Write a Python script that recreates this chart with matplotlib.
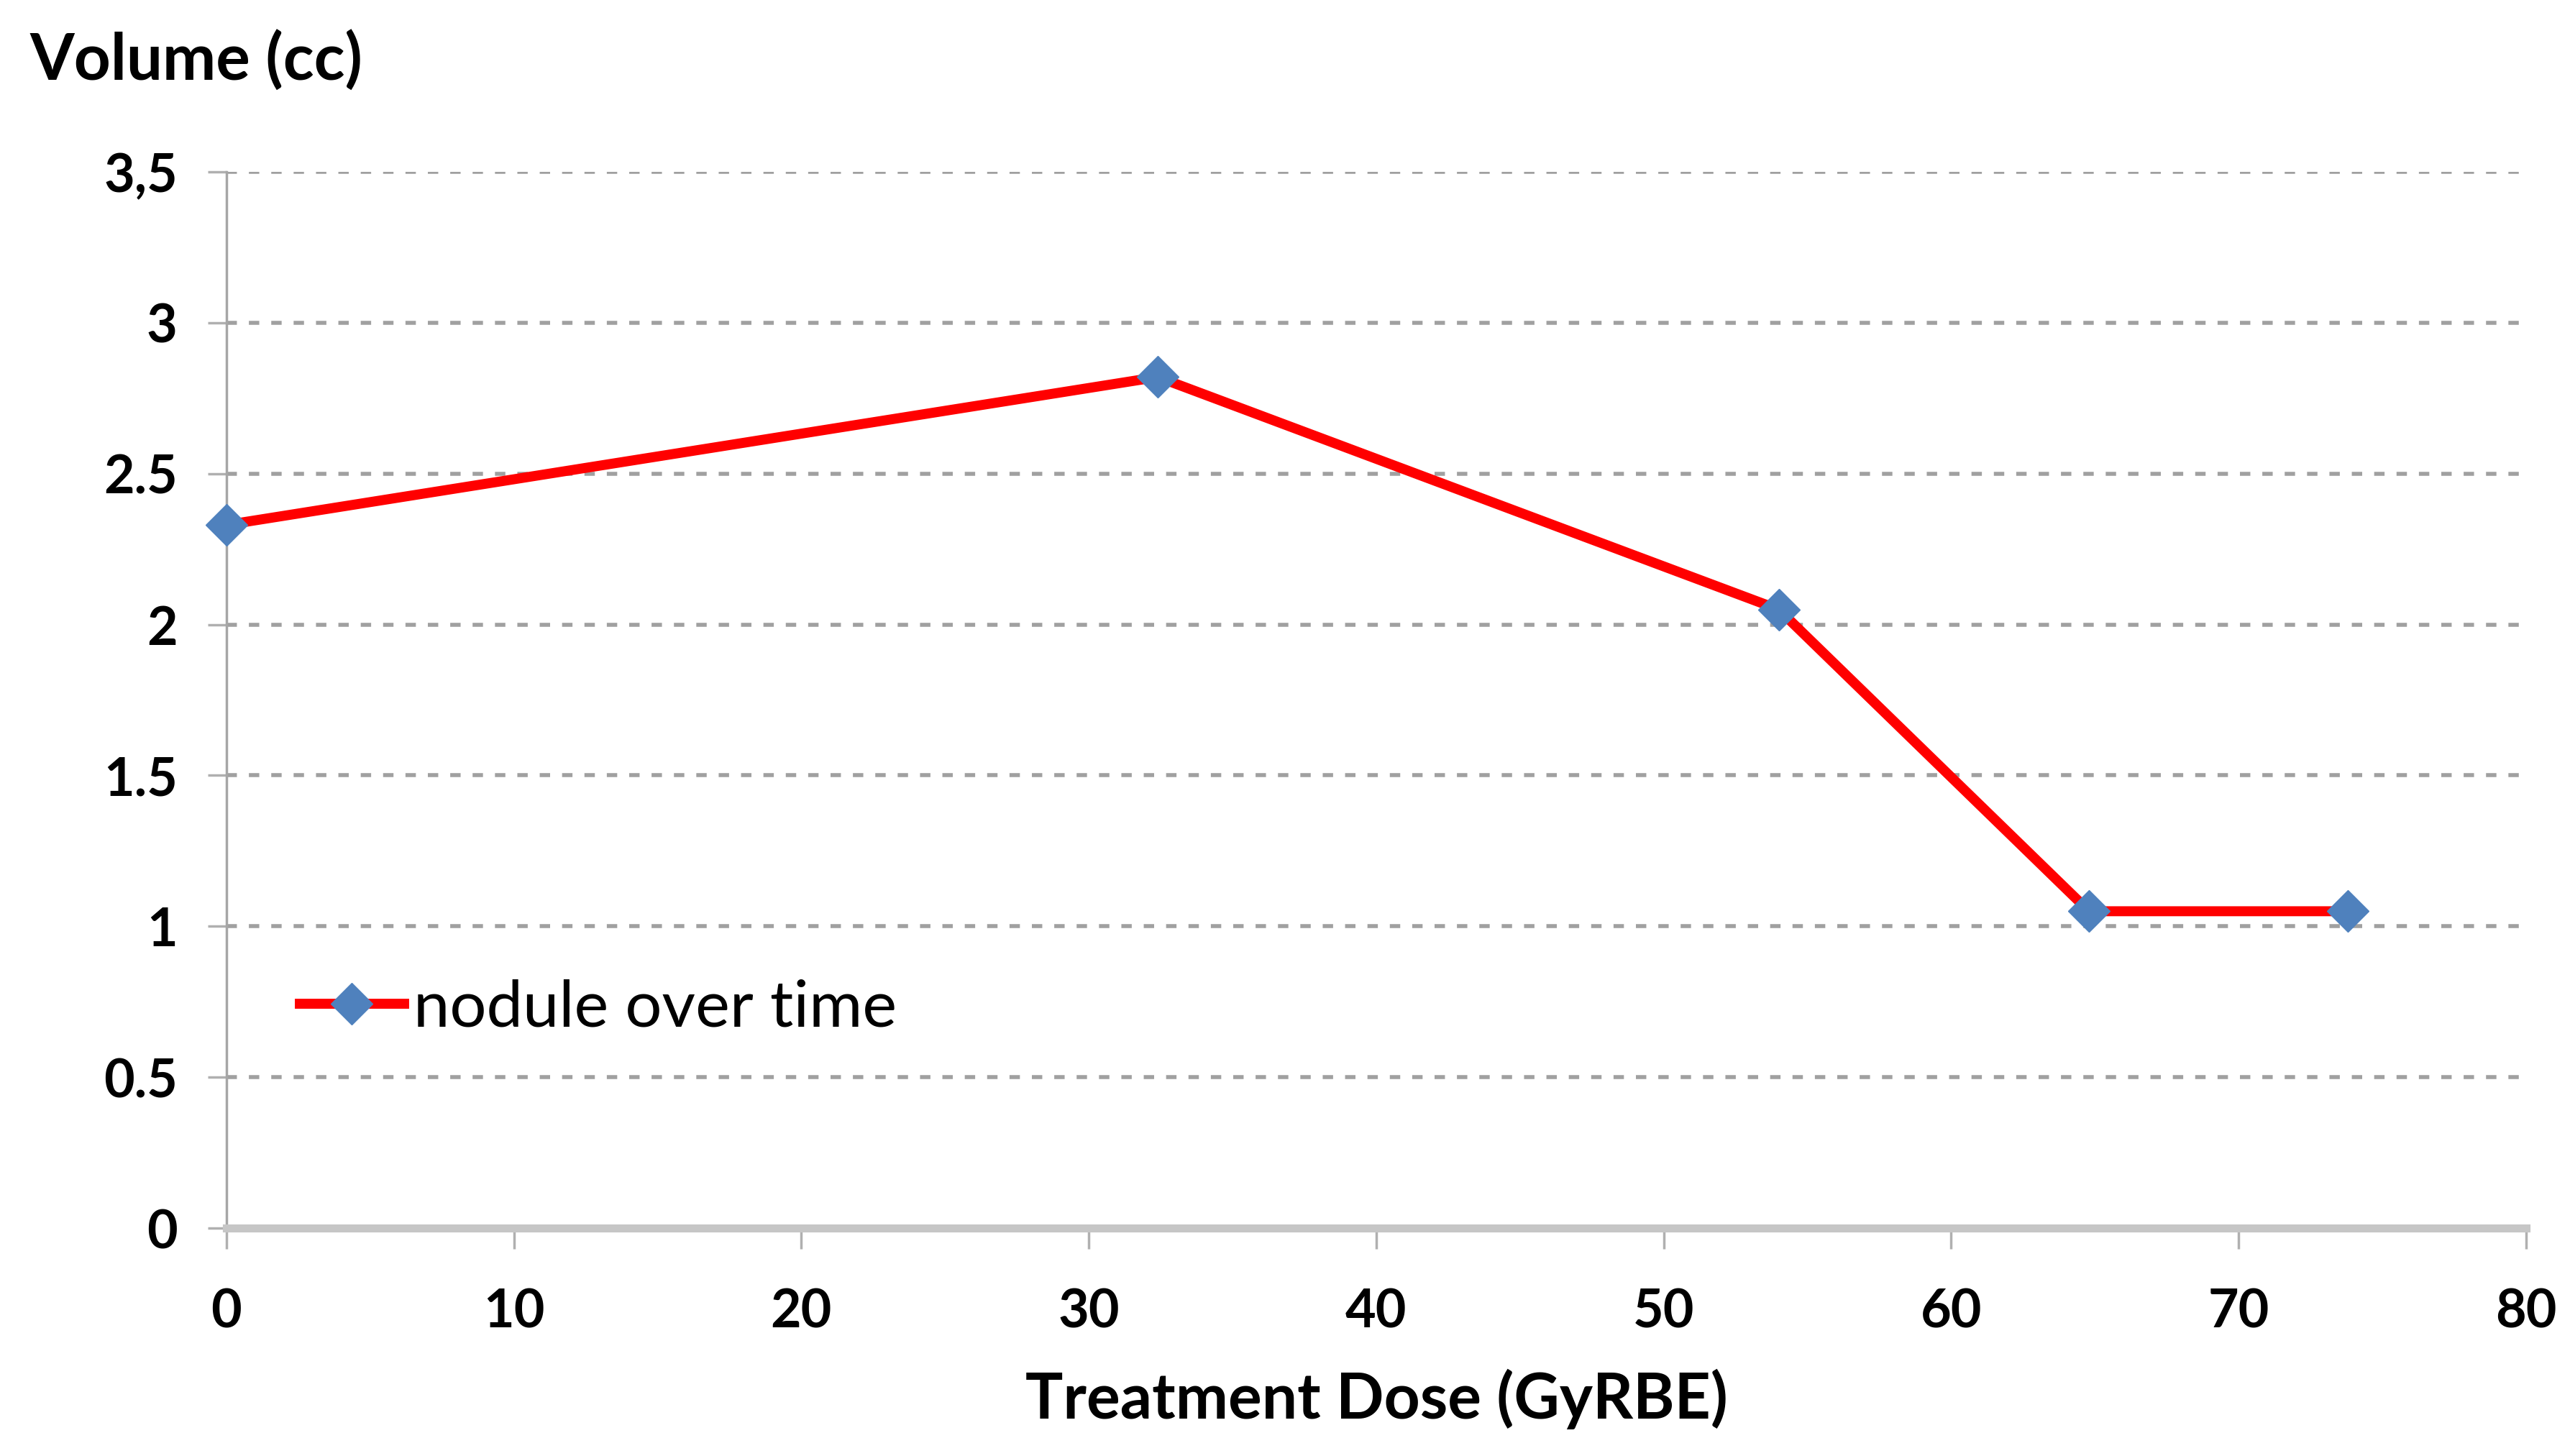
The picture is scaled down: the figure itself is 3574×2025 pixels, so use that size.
import matplotlib
matplotlib.use('Agg')
import matplotlib.pyplot as plt

# nodule volume vs. cumulative dose
dose = [0, 32.4, 54, 64.8, 73.8]
volume = [2.33, 2.82, 2.05, 1.05, 1.05]

x_ticks = [0, 10, 20, 30, 40, 50, 60, 70, 80]
y_ticks = [0, 0.5, 1, 1.5, 2, 2.5, 3, 3.5]
y_tick_labels = ['0', '0.5', '1', '1.5', '2', '2.5', '3', '3,5']

series_label = 'nodule over time'

font = ['Lato', 'DejaVu Sans']

fig = plt.figure(figsize=(35.74, 20.25), dpi=100)
ax = fig.add_axes([0.0881, 0.1565, 0.8948, 0.7255])

ax.plot(dose, volume, color='#ff0000', lw=10, marker='D', ms=30,
        mfc='#4f81bd', mec='#4f81bd', label=series_label, zorder=3,
        clip_on=False)

ax.set_xlim(0, 80)
ax.set_ylim(0, 3.5)
ax.set_xticks(x_ticks)
ax.set_yticks(y_ticks)
ax.set_yticklabels(y_tick_labels)

for t in ax.get_xticklabels() + ax.get_yticklabels():
    t.set_family(font)
    t.set_fontsize(53)
    t.set_fontweight('bold')

ax.tick_params(axis='x', direction='out', length=21, width=2.5, color='#b0b0b0', pad=38)
ax.tick_params(axis='y', direction='out', length=19, width=2.5, color='#b0b0b0', pad=30)

for y in y_ticks[1:]:
    ax.axhline(y, color='#a0a0a0', lw=4, dashes=(2.6, 3.0), zorder=1)

for s in ['top', 'right']:
    ax.spines[s].set_visible(False)
ax.spines['left'].set_color('#a6a6a6')
ax.spines['left'].set_linewidth(2.5)
ax.spines['bottom'].set_color('#c6c6c6')
ax.spines['bottom'].set_linewidth(8)

leg = ax.legend(loc='center left', bbox_to_anchor=(0.032, 0.208), frameon=False,
                handlelength=1.6, handletextpad=0.15, borderpad=0, borderaxespad=0,
                prop={'family': font, 'size': 65})

fig.text(41 / 3574, 1 - 112 / 2025, 'Volume (cc)', family=font, fontsize=64,
         fontweight='bold', ha='left', va='baseline')
fig.text(1914 / 3574, 1 - 1973 / 2025, 'Treatment Dose (GyRBE)', family=font,
         fontsize=63, fontweight='bold', ha='center', va='baseline')

plt.savefig('out.png', dpi=100)
